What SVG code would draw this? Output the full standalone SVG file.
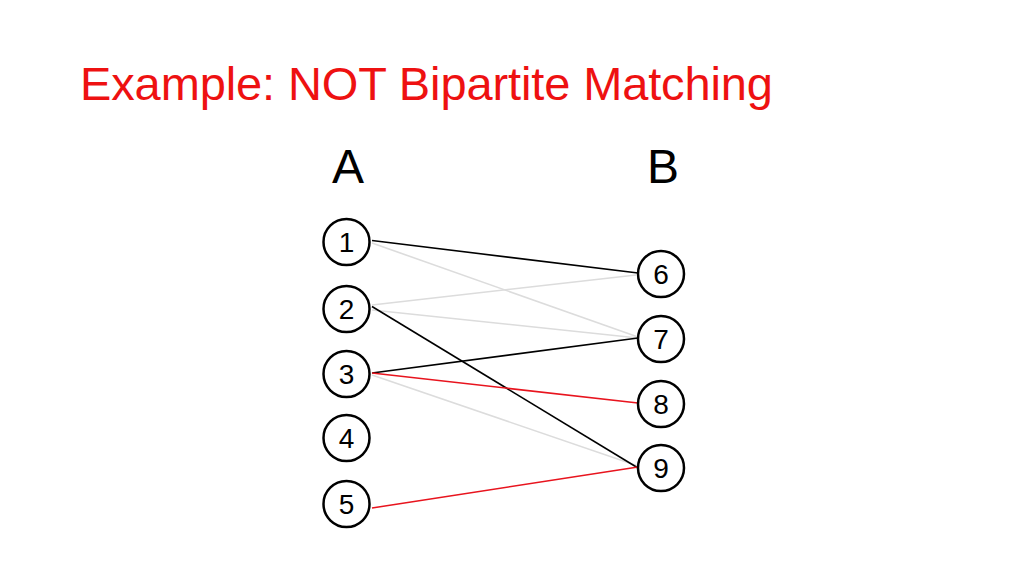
<svg xmlns="http://www.w3.org/2000/svg" width="1024" height="576" viewBox="0 0 1024 576">
<style>
.title{font-family:"Liberation Sans",Arial,sans-serif;font-size:47px;fill:#ee1111}
.hdr{font-family:"Liberation Sans",Arial,sans-serif;font-size:48px;fill:#000}
.node circle{fill:#fff;stroke:#000;stroke-width:2.5}
.node text{font-family:"Liberation Sans",Arial,sans-serif;font-size:28px;fill:#000;text-anchor:middle}
.e{stroke-width:1.6;fill:none}
.blk{stroke:#000}
.gry{stroke:#dcdcdc}
.red{stroke:#e8141e}
</style>
<rect width="1024" height="576" fill="#fff"/>
<text class="title" x="80" y="100" textLength="693" lengthAdjust="spacing">Example: NOT Bipartite Matching</text>
<text class="hdr" x="348" y="183" text-anchor="middle">A</text>
<text class="hdr" x="663" y="183" text-anchor="middle">B</text>
<g id="connectors">
<line class="e gry" x1="372" y1="243" x2="638" y2="337"/>
<line class="e gry" x1="372" y1="305" x2="636" y2="275"/>
<line class="e gry" x1="372" y1="310" x2="638" y2="338"/>
<line class="e gry" x1="372" y1="375" x2="638" y2="466"/>
<line class="e blk" x1="372" y1="240.5" x2="638" y2="273"/>
<line class="e blk" x1="372" y1="306.5" x2="638" y2="468"/>
<line class="e blk" x1="372" y1="373" x2="638" y2="338"/>
<line class="e red" x1="372" y1="373" x2="638" y2="403"/>
<line class="e red" x1="372" y1="508" x2="638" y2="467"/>
</g>
<g id="n1" class="node"><circle cx="346.5" cy="242" r="23"/><text x="346.5" y="252">1</text></g>
<g id="n2" class="node"><circle cx="346.5" cy="309" r="23"/><text x="346.5" y="319">2</text></g>
<g id="n3" class="node"><circle cx="346.5" cy="374" r="23"/><text x="346.5" y="384">3</text></g>
<g id="n4" class="node"><circle cx="346.5" cy="438" r="23"/><text x="346.5" y="448">4</text></g>
<g id="n5" class="node"><circle cx="346.5" cy="504" r="23"/><text x="346.5" y="514">5</text></g>
<g id="n6" class="node"><circle cx="661" cy="274" r="23"/><text x="661" y="284">6</text></g>
<g id="n7" class="node"><circle cx="661" cy="339" r="23"/><text x="661" y="349">7</text></g>
<g id="n8" class="node"><circle cx="661" cy="404" r="23"/><text x="661" y="414">8</text></g>
<g id="n9" class="node"><circle cx="661" cy="468" r="23"/><text x="661" y="478">9</text></g>
</svg>
